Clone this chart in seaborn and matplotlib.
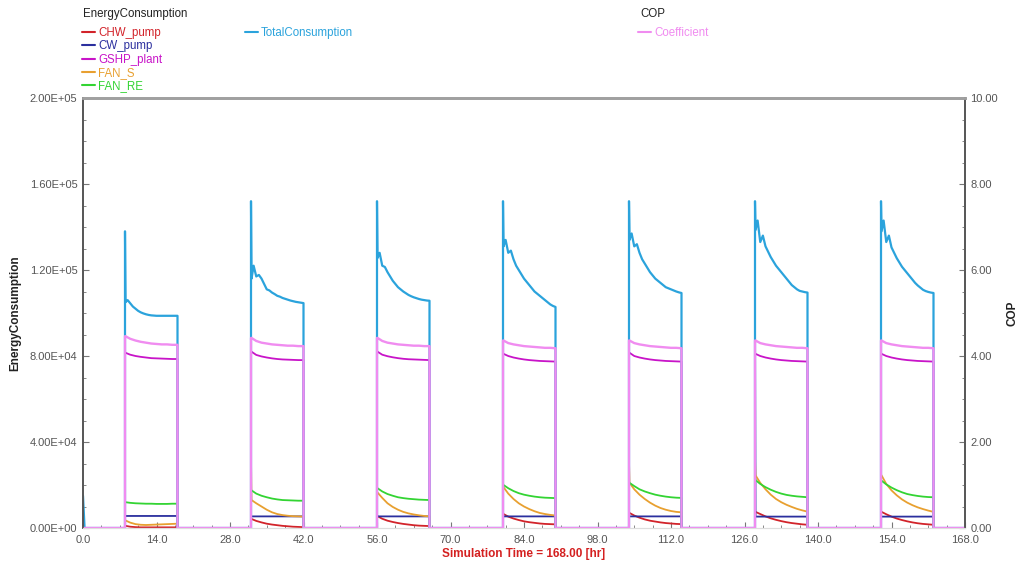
import numpy as np
import pandas as pd
import matplotlib
matplotlib.use("Agg")
import matplotlib.pyplot as plt
from matplotlib.ticker import MultipleLocator, FuncFormatter
from matplotlib.lines import Line2D
import seaborn as sns

# ---------------------------------------------------------------- data
# Plant runs 08:00-18:00 every day of one simulated week.
DAYS = 7
ON_HOUR = 8.0
OFF_HOUR = 18.0

# Total consumption, half-hourly from 08:00 to 18:00 (21 values per day)
TOTAL = [
    [105, 106, 104.5, 103, 102, 101, 100.3, 99.8, 99.4, 99.1, 98.9, 98.8, 98.7, 98.7, 98.7, 98.7, 98.7, 98.7, 98.7, 98.7, 98.7],
    [116, 122, 117, 117.7, 116, 113.5, 111, 110.5, 109.5, 108.8, 108, 107.6, 107, 106.6, 106.2, 105.8, 105.5, 105.2, 105, 104.8, 104.6],
    [125.6, 128, 122, 121.4, 119, 117, 115, 113.5, 112, 111, 110, 109.2, 108.4, 107.8, 107.3, 106.9, 106.5, 106.2, 106, 105.8, 105.7],
    [131, 134, 128, 129, 125, 122, 120, 118, 116, 114.5, 113, 111.5, 110, 109, 108, 107, 106, 105, 104, 103.3, 102.8],
    [134, 137, 131, 132, 128, 125, 123, 121, 119, 117.5, 116, 115, 114, 113, 112, 111.5, 111, 110.5, 110, 109.6, 109.3],
    [138.6, 143, 133, 136, 131, 128.5, 126, 124, 122, 120.5, 119, 117.5, 116, 114.5, 113, 112, 111, 110.3, 110, 109.7, 109.5],
    [138, 143, 133, 136, 130.5, 128, 125.5, 123.5, 121.5, 120, 118.5, 117, 115.5, 114, 112.8, 111.8, 110.8, 110.2, 109.8, 109.5, 109.3],
]
TOTAL_STARTUP = [138, 152, 152, 152, 152, 152, 152]
TOTAL_INITIAL = 15

# Component consumptions, hourly from 08:00 to 18:00 (11 values per day)
GSHP_PLANT = [
    [81.5, 80.6, 80.0, 79.6, 79.3, 79.0, 78.9, 78.8, 78.7, 78.6, 78.6],
    [82.0, 80.5, 79.8, 79.3, 78.9, 78.6, 78.4, 78.3, 78.2, 78.1, 78.1],
    [82.0, 80.6, 79.9, 79.4, 79.0, 78.7, 78.5, 78.4, 78.3, 78.2, 78.1],
    [81.0, 80.0, 79.3, 78.8, 78.4, 78.1, 77.9, 77.7, 77.6, 77.5, 77.4],
    [81.5, 80.0, 79.3, 78.8, 78.4, 78.1, 77.9, 77.7, 77.6, 77.5, 77.4],
    [81.0, 80.0, 79.3, 78.8, 78.4, 78.1, 77.9, 77.7, 77.6, 77.5, 77.4],
    [81.0, 80.0, 79.3, 78.8, 78.4, 78.1, 77.9, 77.7, 77.6, 77.5, 77.4],
]
FAN_RE = [
    [12.0, 11.7, 11.5, 11.4, 11.3, 11.3, 11.2, 11.2, 11.2, 11.3, 11.3],
    [17.5, 16.0, 15.0, 14.3, 13.7, 13.3, 13.0, 12.9, 12.8, 12.7, 12.7],
    [18.5, 17.0, 15.8, 15.0, 14.3, 13.9, 13.6, 13.4, 13.2, 13.1, 13.0],
    [20.0, 18.5, 17.2, 16.2, 15.5, 15.0, 14.6, 14.3, 14.1, 14.0, 13.9],
    [21.0, 19.5, 18.0, 17.0, 16.2, 15.5, 15.0, 14.6, 14.3, 14.1, 14.0],
    [22.3, 20.5, 19.0, 17.8, 16.8, 16.0, 15.4, 15.0, 14.7, 14.5, 14.3],
    [22.0, 20.3, 18.8, 17.6, 16.6, 15.8, 15.3, 14.9, 14.6, 14.4, 14.3],
]
FAN_S = [
    [3.5, 2.5, 1.8, 1.5, 1.4, 1.5, 1.6, 1.7, 1.8, 1.9, 2.0],
    [13.0, 11.5, 10.0, 8.5, 7.3, 6.5, 6.0, 5.7, 5.5, 5.4, 5.3],
    [16.5, 14.0, 11.5, 9.8, 8.5, 7.5, 6.8, 6.3, 5.9, 5.6, 5.4],
    [19.0, 16.0, 13.5, 11.5, 10.0, 8.8, 7.8, 7.0, 6.5, 6.1, 5.8],
    [21.0, 18.0, 15.5, 13.5, 11.8, 10.4, 9.3, 8.5, 7.9, 7.5, 7.3],
    [24.5, 21.0, 18.0, 15.5, 13.5, 12.0, 10.8, 9.8, 8.9, 8.2, 7.6],
    [24.5, 20.5, 17.5, 15.2, 13.3, 11.8, 10.6, 9.6, 8.8, 8.1, 7.5],
]
FAN_S_STARTUP = [3.5, 32, 16.5, 19, 31, 32, 24.5]
CW_PUMP = [
    [5.6] * 11,
    [5.4] * 11,
    [5.4] * 11,
    [5.4] * 11,
    [5.4] * 11,
    [5.3] * 11,
    [5.3] * 11,
]
CW_PUMP_STARTUP = [5.6, 5.4, 5.4, 5.4, 5.4, 101, 5.3]
CHW_PUMP = [
    [1.0, 0.6, 0.4, 0.3, 0.3, 0.3, 0.3, 0.3, 0.3, 0.3, 0.3],
    [4.2, 3.3, 2.6, 2.0, 1.6, 1.3, 1.0, 0.8, 0.6, 0.5, 0.4],
    [5.5, 4.3, 3.4, 2.8, 2.3, 1.9, 1.6, 1.3, 1.1, 1.0, 0.9],
    [6.5, 5.3, 4.4, 3.7, 3.1, 2.7, 2.4, 2.1, 1.9, 1.8, 1.7],
    [7.0, 5.8, 4.8, 4.0, 3.4, 3.0, 2.6, 2.3, 2.1, 1.9, 1.8],
    [7.5, 6.5, 5.4, 4.5, 3.8, 3.2, 2.7, 2.3, 2.0, 1.7, 1.5],
    [7.5, 6.4, 5.3, 4.4, 3.7, 3.1, 2.6, 2.2, 1.9, 1.7, 1.5],
]

# Coefficient of performance, hourly from 08:00 to 18:00
COP = [
    [4.46, 4.40, 4.36, 4.33, 4.31, 4.29, 4.28, 4.27, 4.27, 4.26, 4.26],
    [4.42, 4.35, 4.31, 4.29, 4.27, 4.26, 4.25, 4.24, 4.24, 4.23, 4.23],
    [4.42, 4.35, 4.31, 4.29, 4.27, 4.26, 4.25, 4.24, 4.24, 4.23, 4.23],
    [4.36, 4.30, 4.27, 4.25, 4.23, 4.22, 4.21, 4.20, 4.19, 4.19, 4.18],
    [4.36, 4.30, 4.27, 4.25, 4.23, 4.22, 4.21, 4.20, 4.19, 4.19, 4.18],
    [4.36, 4.30, 4.27, 4.25, 4.23, 4.22, 4.21, 4.20, 4.19, 4.19, 4.18],
    [4.36, 4.30, 4.27, 4.25, 4.23, 4.22, 4.21, 4.20, 4.19, 4.19, 4.18],
]

SERIES_NAMES = ["CHW_pump", "CW_pump", "GSHP_plant", "FAN_S", "FAN_RE", "TotalConsumption"]
COLORS = {
    "CHW_pump": "#d2232a",
    "CW_pump": "#2b2f9e",
    "GSHP_plant": "#c814c8",
    "FAN_S": "#e8a030",
    "FAN_RE": "#33d433",
    "TotalConsumption": "#2ba3dc",
    "Coefficient": "#f08cf0",
}
SCALE = 1000.0  # values above are stored in thousands


def build_series(days, startup=None, initial=0.0):
    """Expand per-day operating values into a continuous weekly trace."""
    t = [0.0, 0.3]
    v = [initial, 0.0]
    for d, vals in enumerate(days):
        on = 24 * d + ON_HOUR
        off = 24 * d + OFF_HOUR
        n = len(vals)
        times = np.linspace(on, off, n)
        times[0] = on + 0.1
        first = vals[0] if startup is None else startup[d]
        t += [on, on]
        v += [0.0, first]
        t += list(times)
        v += list(vals)
        t += [off]
        v += [0.0]
    t.append(24.0 * DAYS)
    v.append(0.0)
    return np.array(t), np.array(v)


frames = []
specs = {
    "CHW_pump": (CHW_PUMP, None, 0.0),
    "CW_pump": (CW_PUMP, CW_PUMP_STARTUP, 0.0),
    "GSHP_plant": (GSHP_PLANT, None, 0.0),
    "FAN_S": (FAN_S, FAN_S_STARTUP, 0.0),
    "FAN_RE": (FAN_RE, None, 0.0),
    "TotalConsumption": (TOTAL, TOTAL_STARTUP, TOTAL_INITIAL),
}
for name in SERIES_NAMES:
    days, startup, init = specs[name]
    t, v = build_series(days, startup, init)
    frames.append(pd.DataFrame({"time": t, "value": v * SCALE, "series": name}))
energy = pd.concat(frames, ignore_index=True)

t_cop, v_cop = build_series(COP)
cop = pd.DataFrame({"time": t_cop, "value": v_cop, "series": "Coefficient"})

# ---------------------------------------------------------------- style
sns.set_style("white")
plt.rcParams["font.family"] = ["Liberation Sans", "DejaVu Sans"]
plt.rcParams["font.size"] = 8

fig = plt.figure(figsize=(10.19, 5.70), dpi=100)
ax = fig.add_axes([83 / 1019, 1 - 528 / 570, (965 - 83) / 1019, (528 - 98) / 570])

widths = {n: 1.3 for n in SERIES_NAMES}
widths["TotalConsumption"] = 1.6
for name in SERIES_NAMES:
    sub = energy[energy["series"] == name]
    sns.lineplot(data=sub, x="time", y="value", color=COLORS[name], lw=widths[name],
                 estimator=None, sort=False, ax=ax, legend=False)

ax2 = ax.twinx()
sns.lineplot(data=cop, x="time", y="value", color=COLORS["Coefficient"], lw=1.7,
             estimator=None, sort=False, ax=ax2, legend=False)

# ---------------------------------------------------------------- axes
ax.set_xlim(0, 168)
ax.set_ylim(0, 2.0e5)
ax2.set_ylim(0, 10)

ax.xaxis.set_major_locator(MultipleLocator(14))
ax.xaxis.set_minor_locator(MultipleLocator(3.5))
ax.yaxis.set_major_locator(MultipleLocator(4e4))
ax.yaxis.set_minor_locator(MultipleLocator(1e4))
ax2.yaxis.set_major_locator(MultipleLocator(2))
ax2.yaxis.set_minor_locator(MultipleLocator(0.5))

ax.xaxis.set_major_formatter(FuncFormatter(lambda x, p: f"{x:.1f}"))
ax.yaxis.set_major_formatter(FuncFormatter(lambda y, p: f"{y:.2E}"))
ax2.yaxis.set_major_formatter(FuncFormatter(lambda y, p: f"{y:.2f}"))

tick_color = "#555555"
for a in (ax, ax2):
    a.tick_params(which="major", direction="in", length=4, width=0.8, color="#777777",
                  labelcolor=tick_color, labelsize=8, pad=4)
    a.tick_params(which="minor", direction="in", length=2.5, width=0.7, color="#888888")
ax.tick_params(axis="x", which="both", bottom=True, top=False, pad=5)
ax.tick_params(axis="y", which="both", left=True)
ax2.tick_params(axis="y", which="both", right=True)

for a in (ax, ax2):
    a.spines["top"].set_color("#a0a0a0")
    a.spines["top"].set_linewidth(2.0)
    a.spines["bottom"].set_color("#dddddd")
    a.spines["bottom"].set_linewidth(0.8)
    a.spines["left"].set_color("#555555")
    a.spines["left"].set_linewidth(1.2)
    a.spines["right"].set_color("#555555")
    a.spines["right"].set_linewidth(1.2)

ax.set_xlabel("Simulation Time = 168.00 [hr]", color="#d42020", fontweight="bold",
              fontsize=8.5, labelpad=2)
ax.set_ylabel("EnergyConsumption", fontweight="bold", fontsize=8.5, color="#222222", labelpad=6)
ax2.set_ylabel("COP", fontweight="bold", fontsize=8.5, color="#222222", labelpad=6)

# ---------------------------------------------------------------- legends
def handles_for(names):
    return [Line2D([], [], color=COLORS[n], lw=1.5) for n in names]


common = dict(frameon=False, fontsize=8.3, handlelength=1.1, handletextpad=0.3,
              labelspacing=0.12, borderpad=0, borderaxespad=0, labelcolor="linecolor")
names1 = SERIES_NAMES[:5]
fig.text(83 / 1019, 1 - 14 / 570, "EnergyConsumption", fontsize=8.3, color="#222222",
         va="center", ha="left")
fig.text(640 / 1019, 1 - 14 / 570, "COP", fontsize=8.3, color="#222222",
         va="center", ha="left")
leg1 = fig.legend(handles_for(names1), names1, loc="upper left",
                  bbox_to_anchor=(82 / 1019, 1 - 27 / 570), **common)
leg2 = fig.legend(handles_for(["TotalConsumption"]), ["TotalConsumption"], loc="upper left",
                  bbox_to_anchor=(245 / 1019, 1 - 27 / 570), **common)
leg3 = fig.legend(handles_for(["Coefficient"]), ["Coefficient"], loc="upper left",
                  bbox_to_anchor=(638 / 1019, 1 - 27 / 570), **common)

fig.savefig("out.png", dpi=100, facecolor="white")
